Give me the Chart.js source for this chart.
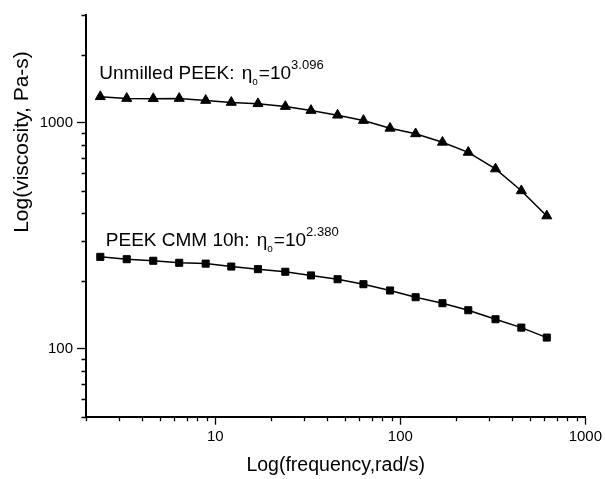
<!DOCTYPE html>
<html lang="en">
<head>
  <meta charset="UTF-8">
  <title>Viscosity vs frequency</title>
  <script src="https://cdn.jsdelivr.net/npm/chart.js"></script>
  <style>
    body { margin: 0; background: #fff; }
    canvas { display: block; }
  </style>
</head>
<body>
  <canvas id="visc" width="605" height="479"></canvas>

  <script>
    // frequency sweep, rad/s
    const freq = [2.39, 3.32, 4.62, 6.38, 8.87, 12.2, 17.0, 23.9, 32.9, 45.8, 63.2, 88.0, 121, 169, 233, 327, 451, 619];
    // complex viscosity, Pa-s
    const unmilled = [1305, 1282, 1279, 1282, 1256, 1231, 1215, 1181, 1134, 1081, 1024, 946, 894, 820, 740, 625, 500, 387];
    const cmm10h = [255, 249, 245, 240, 238, 231, 225, 219, 211, 203, 193, 181, 169, 159, 148, 135, 124, 112];

    const xTicks = [2, 3, 4, 5, 6, 7, 8, 9, 10, 20, 30, 40, 50, 60, 70, 80, 90, 100, 200, 300, 400, 500, 600, 700, 800, 900, 1000];
    const yTicks = [50, 60, 70, 80, 90, 100, 200, 300, 400, 500, 600, 700, 800, 900, 1000, 2000, 3000];
    const majors = [10, 100, 1000];

    const notes = [
      { label: 'Unmilled PEEK: ', exp: '3.096', at: [2.36, 1557] },
      { label: 'PEEK CMM 10h: ', exp: '2.380', at: [2.56, 285] }
    ];

    const FONT = '"Liberation Sans", Arial, sans-serif';
    const isMajor = v => majors.includes(v);

    const toPoints = ys => freq.map((f, i) => ({ x: f, y: ys[i] }));

    // short minor ticks plus axis titles and the eta annotations
    const extras = {
      id: 'extras',
      afterDraw(chart) {
        const ctx = chart.ctx;
        const xs = chart.scales.x;
        const ys = chart.scales.y;
        const area = chart.chartArea;
        ctx.save();
        ctx.strokeStyle = '#000';
        ctx.lineWidth = 1.3;
        ctx.beginPath();
        xTicks.filter(v => !isMajor(v)).forEach(v => {
          const px = Math.round(xs.getPixelForValue(v)) + 0.5;
          ctx.moveTo(px, area.bottom);
          ctx.lineTo(px, area.bottom + 4.5);
        });
        yTicks.filter(v => !isMajor(v)).forEach(v => {
          const py = Math.round(ys.getPixelForValue(v)) + 0.5;
          ctx.moveTo(area.left, py);
          ctx.lineTo(area.left - 4.5, py);
        });
        ctx.stroke();

        ctx.fillStyle = '#000';
        ctx.textAlign = 'center';
        ctx.textBaseline = 'middle';
        ctx.font = '19.5px ' + FONT;
        ctx.fillText('Log(frequency,rad/s)', (area.left + area.right) / 2, 466);
        ctx.save();
        ctx.translate(22, 142);
        ctx.rotate(-Math.PI / 2);
        ctx.font = '21px ' + FONT;
        ctx.fillText('Log(viscosity, Pa-s)', 0, 0);
        ctx.restore();

        ctx.textAlign = 'left';
        ctx.textBaseline = 'alphabetic';
        notes.forEach(n => {
          let x = xs.getPixelForValue(n.at[0]);
          const y = ys.getPixelForValue(n.at[1]);
          ctx.font = '19px ' + FONT;
          ctx.fillText(n.label, x, y);
          x += ctx.measureText(n.label).width + 2;
          ctx.fillText('\u03b7', x, y);
          x += ctx.measureText('\u03b7').width;
          ctx.font = '10px ' + FONT;
          ctx.fillText('o', x, y + 6);
          x += ctx.measureText('o').width + 1;
          ctx.font = '19px ' + FONT;
          ctx.fillText('=10', x, y);
          x += ctx.measureText('=10').width;
          ctx.font = '13px ' + FONT;
          ctx.fillText(n.exp, x, y - 10);
        });
        ctx.restore();
      }
    };

    const baseSet = {
      borderColor: '#000',
      backgroundColor: '#000',
      pointBackgroundColor: '#000',
      pointBorderColor: '#000',
      borderWidth: 1.5,
      pointBorderWidth: 1,
      tension: 0,
      fill: false
    };

    new Chart(document.getElementById('visc').getContext('2d'), {
      type: 'line',
      data: {
        datasets: [
          Object.assign({ label: 'Unmilled PEEK', data: toPoints(unmilled), pointStyle: 'triangle', pointRadius: 5.8 }, baseSet),
          Object.assign({ label: 'PEEK CMM 10h', data: toPoints(cmm10h), pointStyle: 'rect', pointRadius: 5 }, baseSet)
        ]
      },
      options: {
        responsive: false,
        animation: false,
        layout: { padding: { top: 15, right: 18, left: 0, bottom: 0 } },
        plugins: { legend: { display: false }, tooltip: { enabled: false } },
        scales: {
          x: {
            type: 'logarithmic',
            min: 2,
            max: 1000,
            afterBuildTicks: s => { s.ticks = xTicks.map(v => ({ value: v })); },
            afterFit: s => { s.height = 62.3; },
            border: { display: true, color: '#000', width: 2 },
            grid: {
              drawOnChartArea: false,
              tickLength: 8,
              tickWidth: 1.3,
              tickColor: c => (isMajor(c.tick.value) ? '#000' : 'rgba(0,0,0,0)')
            },
            ticks: {
              autoSkip: false,
              maxRotation: 0,
              padding: 3,
              color: '#000',
              font: { family: FONT, size: 15 },
              callback: v => (isMajor(v) ? String(v) : '')
            }
          },
          y: {
            type: 'logarithmic',
            min: 50,
            max: 3000,
            afterBuildTicks: s => { s.ticks = yTicks.map(v => ({ value: v })); },
            afterFit: s => { s.width = 86; },
            border: { display: true, color: '#000', width: 2 },
            grid: {
              drawOnChartArea: false,
              tickLength: 9,
              tickWidth: 1.3,
              tickColor: c => (isMajor(c.tick.value) ? '#000' : 'rgba(0,0,0,0)')
            },
            ticks: {
              autoSkip: false,
              padding: 4,
              color: '#000',
              font: { family: FONT, size: 15 },
              callback: v => (isMajor(v) ? String(v) : '')
            }
          }
        }
      },
      plugins: [extras]
    });
  </script>
</body>
</html>
